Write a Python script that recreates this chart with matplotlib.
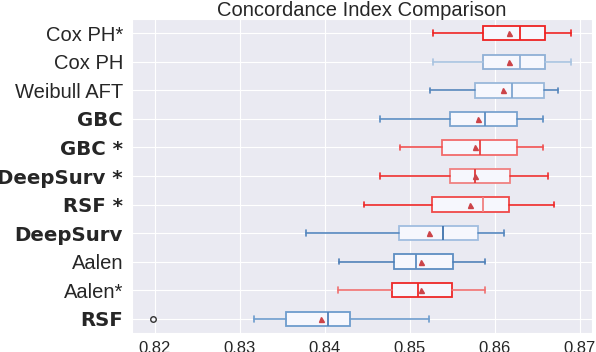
import matplotlib
matplotlib.use("Agg")
import matplotlib.pyplot as plt
import seaborn as sns

sns.set_style("darkgrid")
plt.rcParams['font.family'] = ['Liberation Sans', 'DejaVu Sans']

# rows from top to bottom
models = ["Cox PH*", "Cox PH", "Weibull AFT", "GBC", "GBC *", "DeepSurv *",
          "RSF *", "DeepSurv", "Aalen", "Aalen*", "RSF"]
bold = [False, False, False, True, True, True, True, True, False, False, True]

whis_lo = [0.8527, 0.8527, 0.8524, 0.8465, 0.8488, 0.8465, 0.8446, 0.8378, 0.8416, 0.8415, 0.8316]
q1 = [0.8586, 0.8586, 0.8577, 0.8547, 0.8538, 0.8547, 0.8526, 0.8487, 0.8481, 0.8479, 0.8354]
median = [0.8629, 0.8629, 0.8620, 0.8588, 0.8582, 0.8577, 0.8586, 0.8539, 0.8507, 0.8509, 0.8404]
q3 = [0.8659, 0.8659, 0.8658, 0.8626, 0.8626, 0.8618, 0.8616, 0.8580, 0.8551, 0.8550, 0.8429]
whis_hi = [0.8690, 0.8690, 0.8674, 0.8656, 0.8657, 0.8663, 0.8669, 0.8611, 0.8588, 0.8588, 0.8522]
means = [0.8616, 0.8616, 0.8610, 0.8580, 0.8577, 0.8576, 0.8571, 0.8522, 0.8513, 0.8513, 0.8395]
fliers = [[], [], [], [], [], [], [], [], [], [], [0.8198]]

# (box edge, whisker/cap, median)
colors = [("#ee2222", "#ee2222", "#ee2222"),
          ("#8fb0d6", "#a8c3e0", "#8fb0d6"),
          ("#9ab8da", "#5585bb", "#7fa6d0"),
          ("#7aa3cf", "#5b8dc2", "#5b8dc2"),
          ("#f26a6a", "#f05050", "#e84040"),
          ("#f08080", "#ee3030", "#e03838"),
          ("#f04848", "#ee2828", "#f08080"),
          ("#a0bde0", "#5587bf", "#3f73ad"),
          ("#5d8dc2", "#4f80b8", "#5d8dc2"),
          ("#ee2828", "#f07070", "#ee2828"),
          ("#6d9ccd", "#6d9ccd", "#4f80b8")]

fig = plt.figure(figsize=(5.96, 3.52), dpi=100)
ax = fig.add_axes([0.2215, 0.054, 0.7715, 0.892])

n = len(models)
for i in range(n):
    pos = n - i
    st = dict(whislo=whis_lo[i], q1=q1[i], med=median[i], q3=q3[i],
              whishi=whis_hi[i], mean=means[i], fliers=fliers[i])
    box_c, wh_c, med_c = colors[i]
    ax.bxp([st], positions=[pos], vert=False, widths=0.5, showmeans=True,
           patch_artist=True,
           boxprops=dict(facecolor="#f6f7fd", edgecolor=box_c, linewidth=1.3),
           whiskerprops=dict(color=wh_c, linewidth=1.2),
           capprops=dict(color=wh_c, linewidth=1.2),
           medianprops=dict(color=med_c, linewidth=1.3),
           meanprops=dict(marker="^", markerfacecolor="#cc4449",
                          markeredgecolor="#cc4449", markersize=3.6),
           flierprops=dict(marker="o", markerfacecolor="none",
                           markeredgecolor="#333333", markersize=4),
           capwidths=0.2)

ax.set_xlim(0.8173, 0.8714)
ax.set_ylim(0.5, n + 0.5)
ax.set_xticks([0.82, 0.83, 0.84, 0.85, 0.86, 0.87])
ax.set_xticklabels(["0.82", "0.83", "0.84", "0.85", "0.86", "0.87"])
ax.set_yticks(range(n, 0, -1))
ax.set_yticklabels(models)
for lab, b in zip(ax.get_yticklabels(), bold):
    lab.set_fontsize(14.5)
    if b:
        lab.set_family("DejaVu Sans")
        lab.set_fontweight("bold")
        lab.set_fontsize(14.2)
ax.tick_params(axis="x", labelsize=12, colors="#262626", pad=2)
ax.tick_params(axis="y", colors="#262626", pad=3)
ax.set_title("Concordance Index Comparison", fontsize=14.5, color="#262626", pad=2)

plt.savefig("out.png", dpi=100)
